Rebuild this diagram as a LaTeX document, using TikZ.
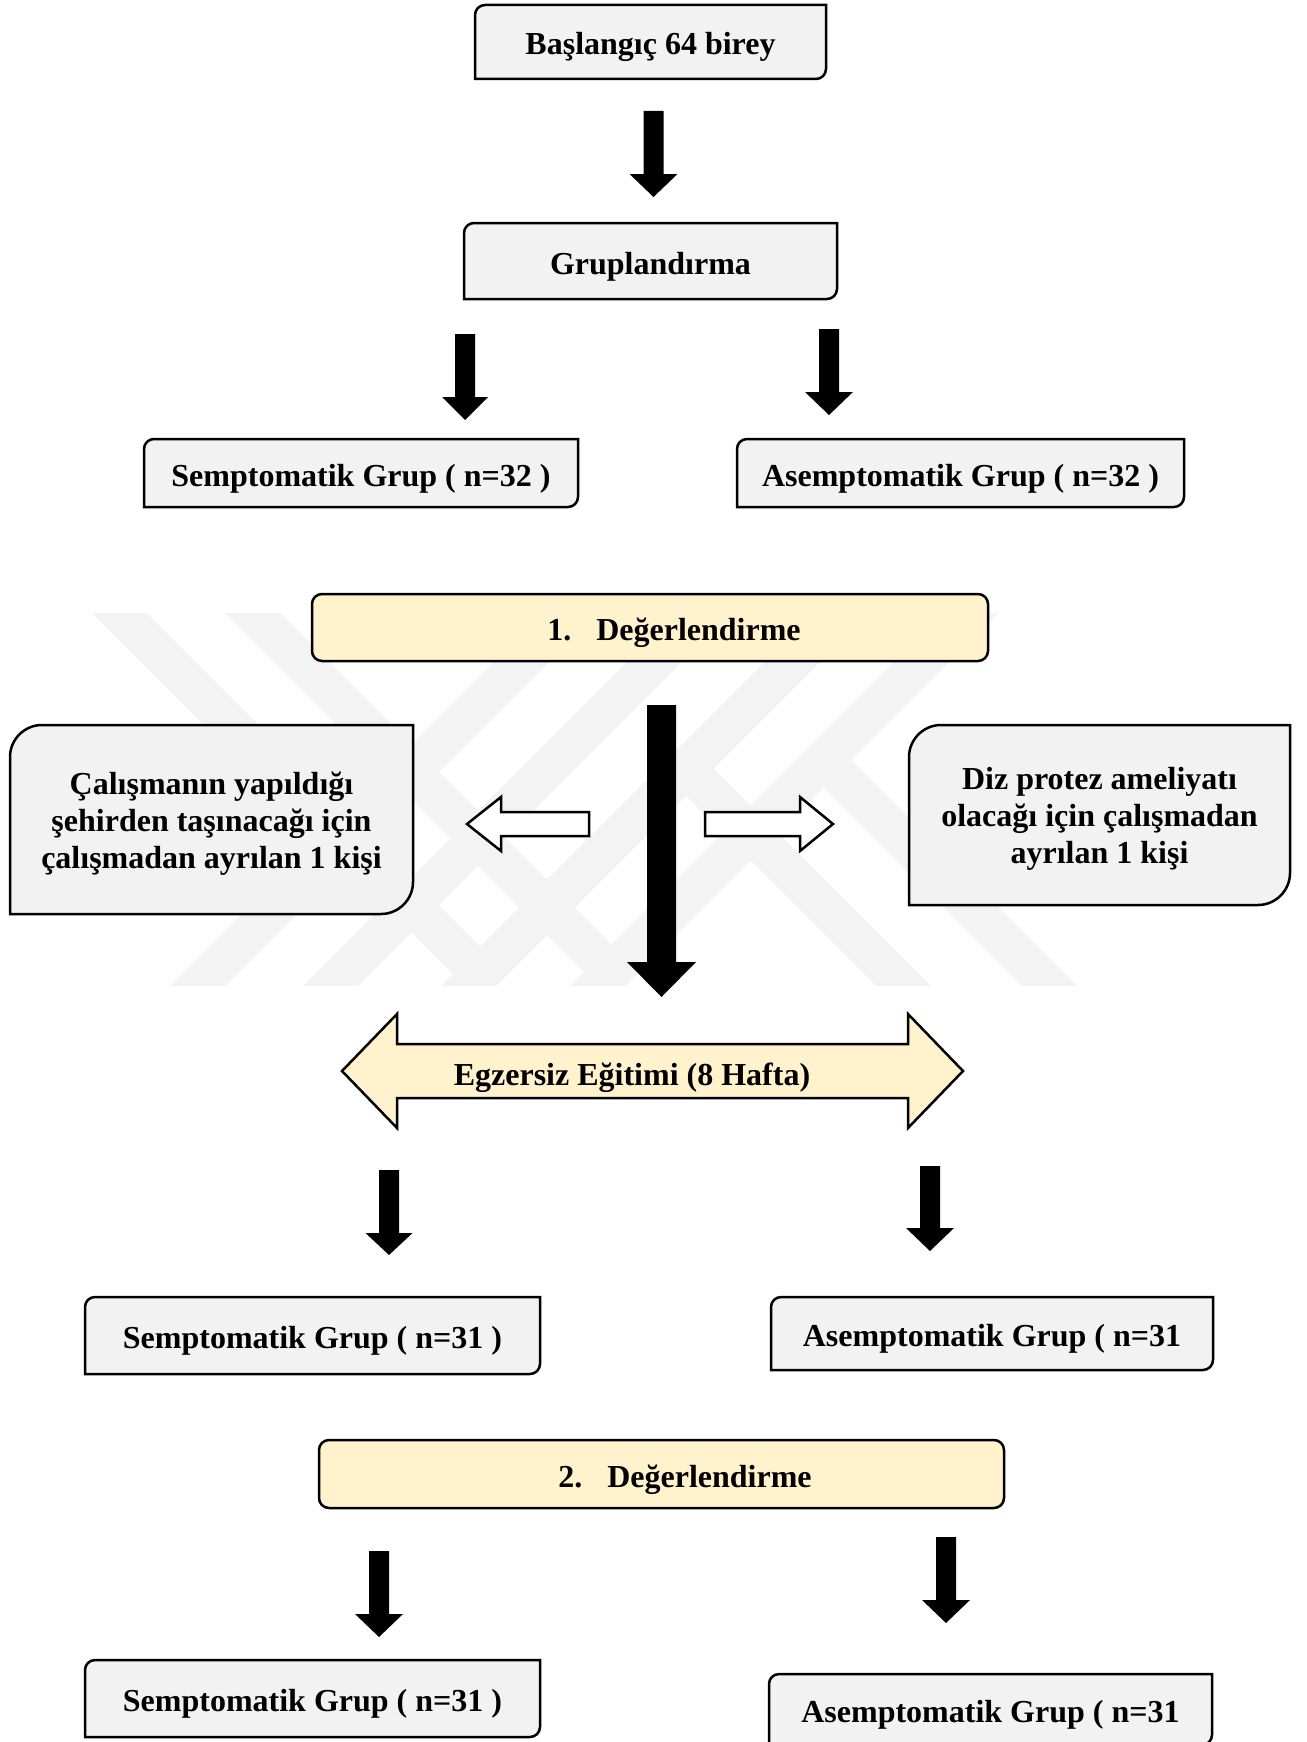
\documentclass[tikz,border=0pt]{standalone}
\usepackage{fontspec}
\setmainfont{Liberation Serif}
\usetikzlibrary{calc}

\definecolor{boxgray}{HTML}{F2F2F2}
\definecolor{evalyellow}{HTML}{FFF2CC}
\definecolor{markgray}{HTML}{F3F3F3}

\pgfdeclarelayer{mark}
\pgfdeclarelayer{frame}
\pgfsetlayers{mark,frame,main}

\tikzset{
  grpbox/.style={inner sep=0pt, outer sep=0pt, align=center,
    font=\fontsize{32}{37}\selectfont\bfseries},
  onebox/.style={grpbox, text height=26pt, text depth=0pt},
  evalbox/.style={onebox, draw, line width=2.5pt, fill=evalyellow, rounded corners=10pt},
  frameline/.style={draw, line width=2.5pt, fill=boxgray},
  hollow/.style={draw, line width=2.5pt, fill=white},
  band/.style={draw=markgray, line width=39pt},
}

% frame with two rounded corners (top left, bottom right)
\newcommand{\diagframe}[2]{%
  \path[frameline] ($(#1.north west)+(0,-#2)$)
    .. controls ($(#1.north west)+(0,-0.45*#2)$) and ($(#1.north west)+(0.45*#2,0)$) .. ($(#1.north west)+(#2,0)$)
    -- (#1.north east) -- ($(#1.south east)+(0,#2)$)
    .. controls ($(#1.south east)+(0,0.45*#2)$) and ($(#1.south east)+(-0.45*#2,0)$) .. ($(#1.south east)+(-#2,0)$)
    -- (#1.south west) -- cycle;}

% black block arrow: start, tip, half shaft, half head, head length
\newcommand{\blockdown}[5]{%
  \fill ($(#1)+(-#3,0)$) -- ($(#2)+(-#3,#5)$) -- ($(#2)+(-#4,#5)$) -- (#2)
    -- ($(#2)+(#4,#5)$) -- ($(#2)+(#3,#5)$) -- ($(#1)+(#3,0)$) -- cycle;}

\begin{document}
\begin{tikzpicture}[x=1pt, y=1pt]
\useasboundingbox (0,0) rectangle (1306,-1742);

% watermark
\begin{pgfonlayer}{mark}
\begin{scope}
  \clip (0,-613) rectangle (1306,-985);
  \foreach \b in {171,304,442,571}
    \draw[band] (\b-2.5,-1015) -- (\b+429.5,-583);
  \draw[band] (89.5,-583) -- (480.5,-974) -- (871.5,-583);
  \draw[band] (222.5,-583) -- (611.5,-972) -- (1000.5,-583);
  \draw[band] (686,-768.5) -- (932.5,-1015);
  \draw[band] (823.5,-760) -- (1078.5,-1015);
\end{scope}
\end{pgfonlayer}

% boxes
\node[onebox, minimum width=351, minimum height=74] (start) at (650.5,-42) {Başlangıç 64 birey};
\node[onebox, minimum width=373, minimum height=76] (grouping) at (650.5,-261) {Gruplandırma};
\node[onebox, minimum width=434, minimum height=68] (sympre) at (361,-473) {Semptomatik Grup ( n=32 )};
\node[onebox, minimum width=447, minimum height=68] (asympre) at (960.5,-473) {Asemptomatik Grup ( n=32 )};
\node[evalbox, minimum width=676, minimum height=67] (evalone) at (650,-627.5)
  {\hspace*{48pt}1.\hspace{25pt}Değerlendirme};
\node[grpbox, minimum width=403, minimum height=189] (dropleft) at (211.5,-819.5)
  {\rule{0pt}{30pt}Çalışmanın yapıldığı\\şehirden taşınacağı için\\çalışmadan ayrılan 1 kişi};
\node[grpbox, minimum width=381, minimum height=180] (dropright) at (1099.5,-815)
  {\rule{0pt}{30pt}Diz protez ameliyatı\\olacağı için çalışmadan\\ayrılan 1 kişi};
\node[onebox, minimum width=455, minimum height=77] (symmid) at (312.5,-1335.5) {Semptomatik Grup ( n=31 )};
\node[onebox, minimum width=442, minimum height=73] (asymmid) at (992,-1333.5) {Asemptomatik Grup ( n=31};
\node[evalbox, minimum width=685, minimum height=68] (evaltwo) at (661.5,-1474)
  {\hspace*{47pt}2.\hspace{25pt}Değerlendirme};
\node[onebox, minimum width=455, minimum height=77] (sympost) at (312.5,-1698.5) {Semptomatik Grup ( n=31 )};
\node[onebox, minimum width=443, minimum height=71] (asympost) at (990.5,-1709.5) {Asemptomatik Grup ( n=31};

\begin{pgfonlayer}{frame}
  \foreach \n in {start,grouping,sympre,asympre,symmid,asymmid,sympost,asympost}
    \diagframe{\n}{10};
  \diagframe{dropleft}{32}
  \diagframe{dropright}{32}
\end{pgfonlayer}

% training double arrow
\coordinate (trainL) at (342,-1071);
\coordinate (trainR) at (963,-1071);
\draw[line width=2.5pt, fill=evalyellow] (trainL) -- ++(55,57) -- ++(0,-30) -- ++(511,0) -- ++(0,30)
  -- (trainR) -- ++(-55,-57) -- ++(0,30) -- ++(-511,0) -- ++(0,-30) -- cycle;
\node[onebox] (train) at (632,-1072) {Egzersiz Eğitimi (8 Hafta)};

% black arrows
\coordinate (a1s) at (653.5,-111);  \coordinate (a1t) at (653.5,-197);
\coordinate (a2s) at (465,-334);    \coordinate (a2t) at (465,-420);
\coordinate (a3s) at (829,-329);    \coordinate (a3t) at (829,-415);
\coordinate (a4s) at (661.5,-705);  \coordinate (a4t) at (661.5,-997);
\coordinate (a5s) at (389,-1170);   \coordinate (a5t) at (389,-1255);
\coordinate (a6s) at (930,-1166);   \coordinate (a6t) at (930,-1251);
\coordinate (a7s) at (379,-1551);   \coordinate (a7t) at (379,-1637);
\coordinate (a8s) at (946,-1537);   \coordinate (a8t) at (946,-1623);
\blockdown{a1s}{a1t}{10}{24}{23}
\blockdown{a2s}{a2t}{10}{23}{23}
\blockdown{a3s}{a3t}{10}{24}{23}
\blockdown{a4s}{a4t}{14.5}{34.5}{35}
\blockdown{a5s}{a5t}{10}{23.5}{22}
\blockdown{a6s}{a6t}{10}{24}{23}
\blockdown{a7s}{a7t}{10}{24}{23}
\blockdown{a8s}{a8t}{10}{24}{23}

% hollow side arrows
\coordinate (leftA) at (589,-824);  \coordinate (leftP) at (467,-824);
\coordinate (rightA) at (705,-824); \coordinate (rightP) at (833,-824);
\draw[hollow] ($(leftA)+(0,12)$) -- ($(leftP)+(34,12)$) -- ($(leftP)+(34,27)$) -- (leftP)
  -- ($(leftP)+(34,-27)$) -- ($(leftP)+(34,-12)$) -- ($(leftA)+(0,-12)$) -- cycle;
\draw[hollow] ($(rightA)+(0,12)$) -- ($(rightP)+(-33,12)$) -- ($(rightP)+(-33,27)$) -- (rightP)
  -- ($(rightP)+(-33,-27)$) -- ($(rightP)+(-33,-12)$) -- ($(rightA)+(0,-12)$) -- cycle;
\end{tikzpicture}
\end{document}
